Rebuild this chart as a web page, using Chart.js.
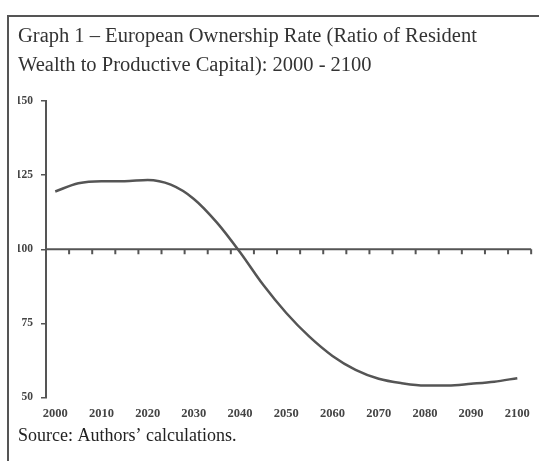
<!DOCTYPE html>
<html>
<head>
<meta charset="utf-8">
<script src="https://cdn.jsdelivr.net/npm/chart.js@4"></script>
<style>
  body { margin: 0; background: #fff; }
  #box {
    position: absolute; left: 7px; top: 15px;
    width: 532px; height: 446px; box-sizing: border-box;
    border-left: 2px solid #555; border-top: 2px solid #555;
  }
</style>
</head>
<body>
<div id="box"><canvas id="ownershipChart"></canvas></div>
<script>
// years and ownership rate (%)
const years = [2000, 2005, 2010, 2015, 2020, 2025, 2030, 2035, 2040, 2045, 2050,
               2055, 2060, 2065, 2070, 2075, 2080, 2085, 2090, 2095, 2100];
const ownershipRate = [119.5, 122.3, 123, 123, 123.4, 121.8, 117, 109, 99, 88, 78.5,
                       70.5, 64, 59.3, 56.3, 54.8, 54, 54, 54.6, 55.3, 56.5];
const xTickYears = [2000, 2010, 2020, 2030, 2040, 2050, 2060, 2070, 2080, 2090, 2100];
const yTickValues = [50, 75, 100, 125, 150];
const refLevel = 100;

const serif = '"Liberation Serif", "DejaVu Serif", serif';
const ink = '#444';

// line at 100 with small tick marks every 5 years
const refLine = {
    id: 'refLine',
    afterDatasetsDraw(chart) {
        const {ctx, chartArea, scales: {x, y}} = chart;
        const py = y.getPixelForValue(refLevel);
        ctx.save();
        ctx.strokeStyle = '#555';
        ctx.lineWidth = 2;
        ctx.beginPath();
        ctx.moveTo(chartArea.left, py);
        ctx.lineTo(chartArea.right, py);
        for (let yr = x.min + 5; yr <= x.max; yr += 5) {
            const px = x.getPixelForValue(yr);
            ctx.moveTo(px, py);
            ctx.lineTo(px, py + 5);
        }
        ctx.stroke();
        ctx.restore();
    }
};

const ctx = document.getElementById('ownershipChart').getContext('2d');
new Chart(ctx, {
    type: 'line',
    data: {
        datasets: [{
            data: years.map((yr, i) => ({x: yr, y: ownershipRate[i]})),
            borderColor: '#555',
            borderWidth: 2.5,
            pointRadius: 0,
            cubicInterpolationMode: 'monotone',
            fill: false
        }]
    },
    options: {
        responsive: true,
        maintainAspectRatio: false,
        animation: false,
        layout: { padding: { left: 9, right: 7, top: 0, bottom: 0 } },
        plugins: {
            legend: { display: false },
            tooltip: { enabled: false },
            title: {
                display: true,
                align: 'start',
                text: ['Graph 1 \u2013 European Ownership Rate (Ratio of Resident',
                       'Wealth to Productive Capital): 2000 - 2100'],
                color: '#333',
                font: { family: serif, size: 20.5, weight: 'normal', lineHeight: 1.37 },
                padding: { top: 6, bottom: 22 }
            },
            subtitle: {
                display: true,
                position: 'bottom',
                align: 'start',
                text: 'Source: Authors\u2019 calculations.',
                color: '#222',
                font: { family: serif, size: 18, lineHeight: 1.2 },
                padding: { top: 0, bottom: 14 }
            }
        },
        scales: {
            x: {
                type: 'linear',
                min: 1998,
                max: 2103,
                afterBuildTicks: (s) => { s.ticks = xTickYears.map(v => ({value: v})); },
                afterFit: (s) => { s.height = 28; },
                grid: { display: false, drawTicks: false },
                border: { display: false },
                ticks: {
                    padding: 9,
                    color: ink,
                    font: { family: serif, size: 12.5, weight: 'bold' },
                    maxRotation: 0,
                    autoSkip: false,
                    callback: (v) => String(v)
                }
            },
            y: {
                min: 50,
                max: 150,
                afterBuildTicks: (s) => { s.ticks = yTickValues.map(v => ({value: v})); },
                afterFit: (s) => { s.width = 28; },
                grid: { drawOnChartArea: false, drawTicks: true, tickLength: 5, color: '#555', lineWidth: 1.5 },
                border: { display: true, color: '#555', width: 2 },
                ticks: {
                    padding: 8,
                    color: ink,
                    font: { family: serif, size: 11.5, weight: 'bold' }
                }
            }
        }
    },
    plugins: [refLine]
});
</script>
</body>
</html>
